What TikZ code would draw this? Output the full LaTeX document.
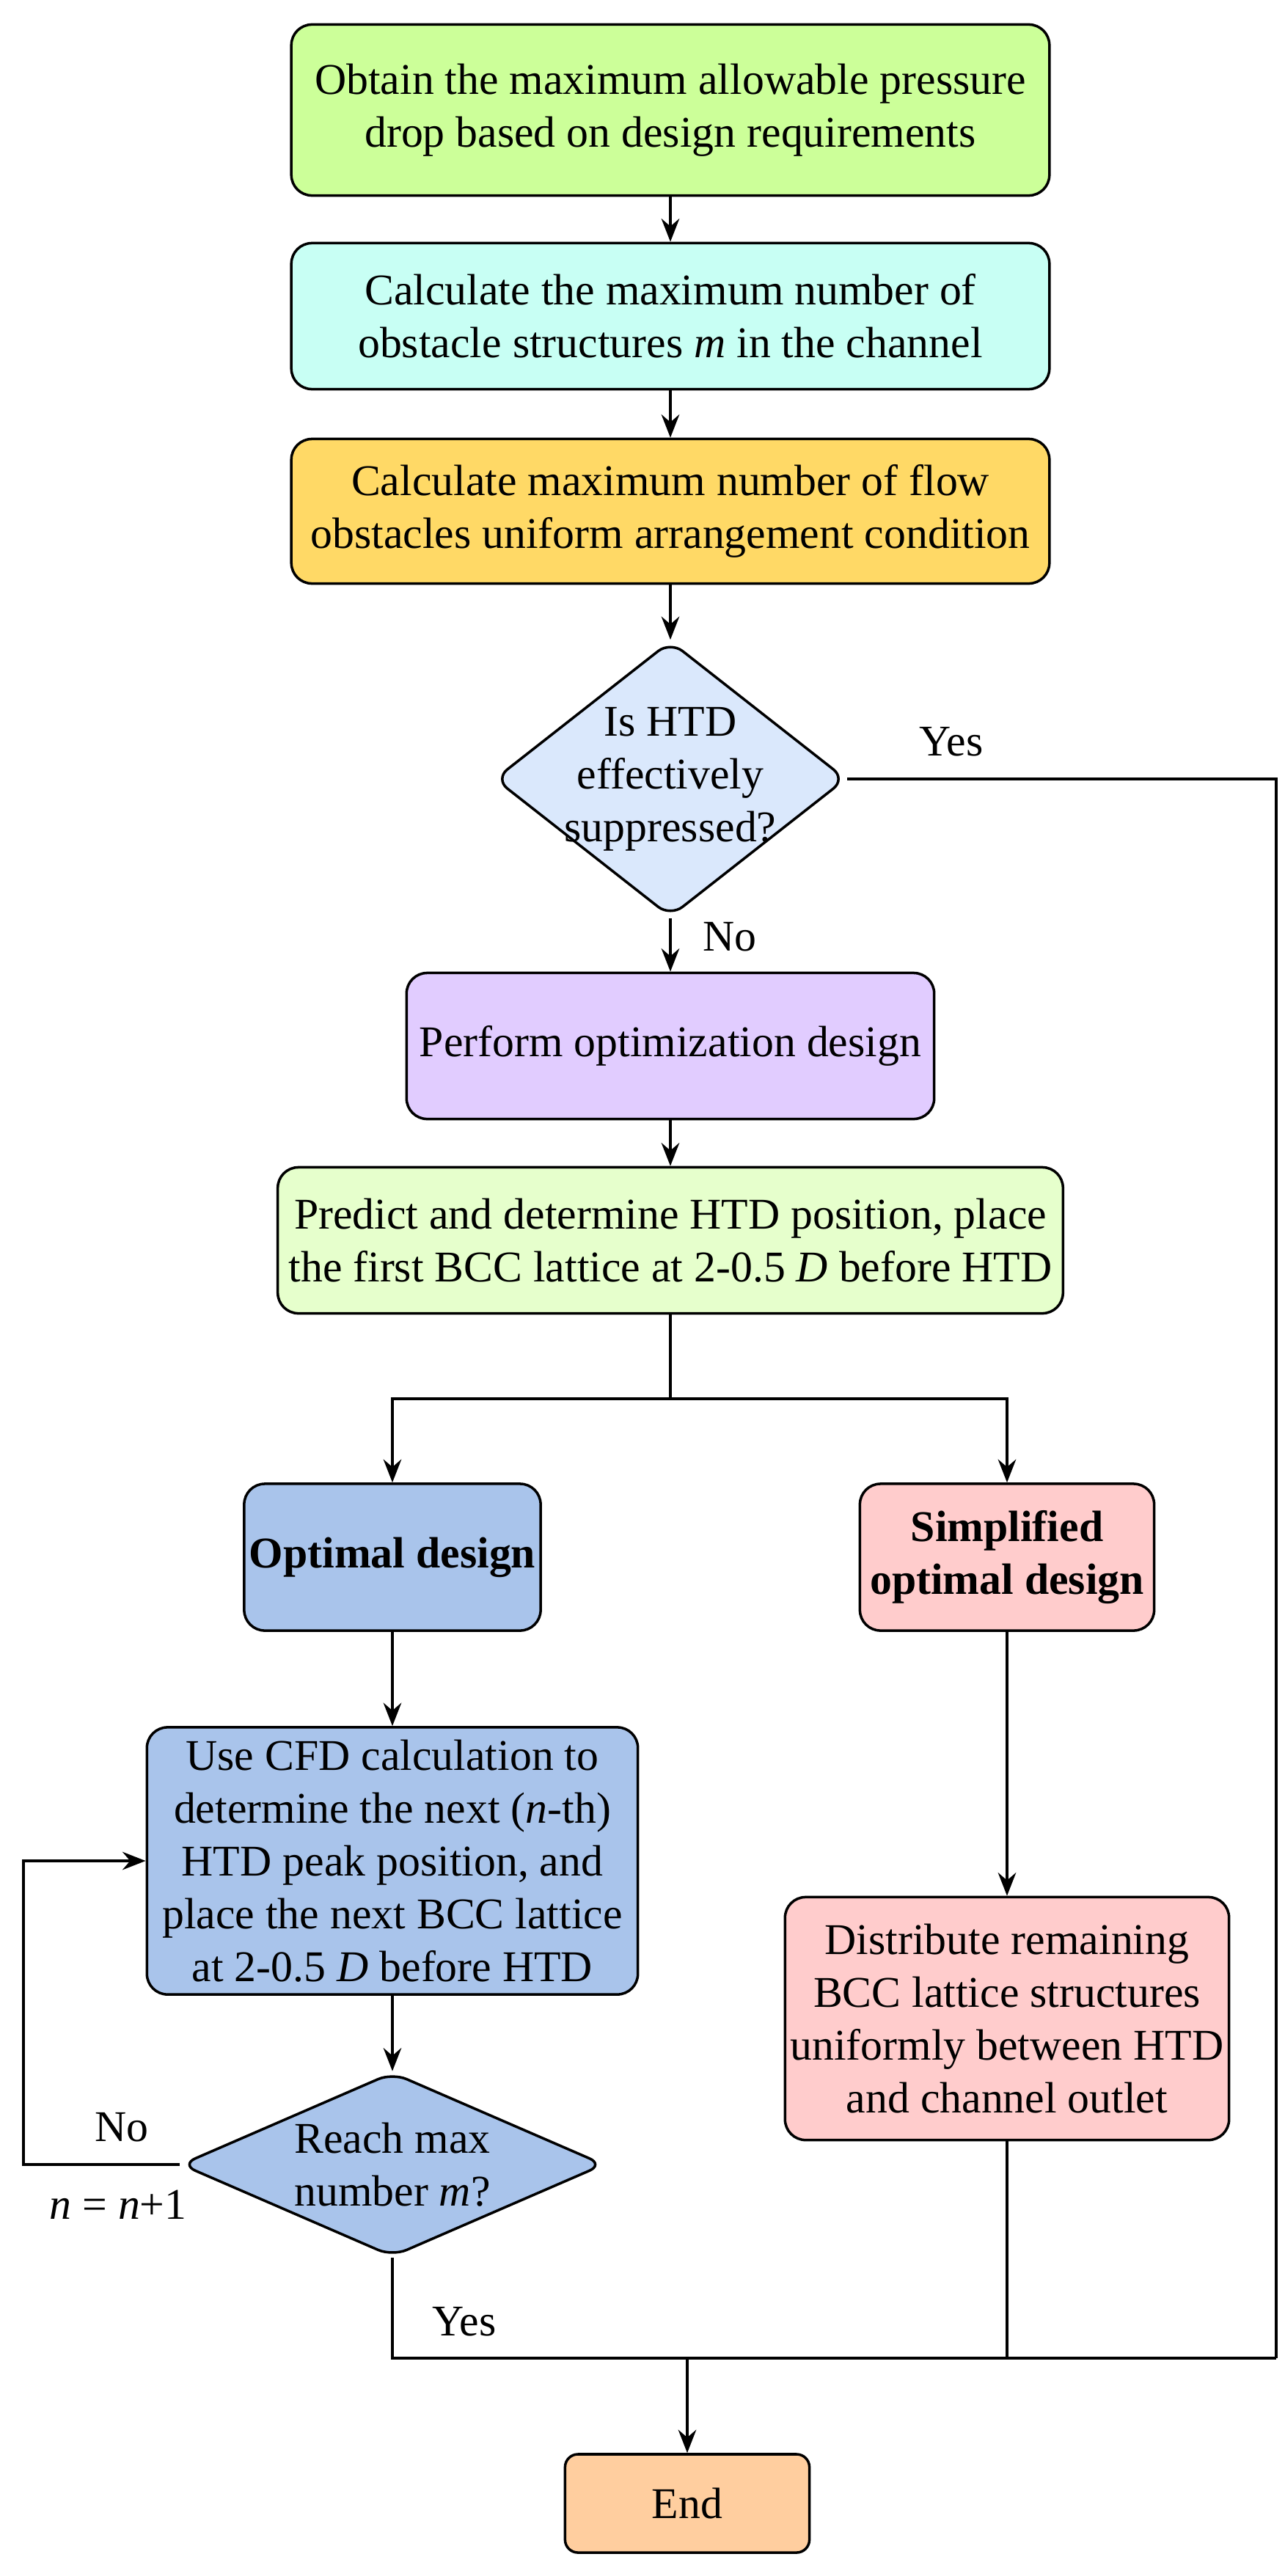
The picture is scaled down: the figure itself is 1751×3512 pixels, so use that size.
\documentclass[tikz,border=0pt]{standalone}
\usepackage{fontspec}
\setmainfont{Liberation Serif}
\usetikzlibrary{shapes.geometric,arrows.meta}

\definecolor{obtaincol}{HTML}{CCFF99}
\definecolor{calccol}{HTML}{C8FFF4}
\definecolor{flowcol}{HTML}{FFD966}
\definecolor{htdcol}{HTML}{DAE8FC}
\definecolor{performcol}{HTML}{E1CCFF}
\definecolor{predictcol}{HTML}{E6FFCC}
\definecolor{optcol}{HTML}{A9C4EB}
\definecolor{simpcol}{HTML}{FFCCCC}
\definecolor{endcol}{HTML}{FFCE9F}

\begin{document}
\begin{tikzpicture}[x=0.01cm, y=-0.01cm,
    font=\fontsize{17}{20.5}\selectfont,
    box/.style={rectangle, rounded corners=8pt, draw, line width=1pt, align=center, inner sep=0pt},
    decision/.style={diamond, rounded corners=6pt, draw, line width=1pt, inner sep=0pt},
    arr/.style={-{Stealth[length=9pt,width=7pt,inset=3pt]}, line width=0.9pt},
    conn/.style={line width=0.9pt}]
        \useasboundingbox (0,0) rectangle (1751,3512);

        \node[box, fill=obtaincol, minimum width=10.33cm, minimum height=2.33cm] (obtain) at (914,150) {Obtain the maximum allowable pressure\\drop based on design requirements};
        \node[box, fill=calccol, minimum width=10.33cm, minimum height=1.99cm] (calcm) at (914,431) {Calculate the maximum number of\\obstacle structures \textit{m} in the channel};
        \node[box, fill=flowcol, minimum width=10.33cm, minimum height=1.97cm] (calcflow) at (914,697) {Calculate maximum number of flow\\obstacles uniform arrangement condition};
        \node[decision, fill=htdcol, minimum width=4.79cm, minimum height=3.76cm] (htd) at (914,1062) {};
        \node[align=center] (htdtext) at (htd) {Is HTD\\effectively\\suppressed?};
        \node[box, fill=performcol, minimum width=7.19cm, minimum height=1.99cm] (perform) at (914,1426) {Perform optimization design};
        \node[box, fill=predictcol, minimum width=10.70cm, minimum height=1.99cm] (predict) at (914,1691) {Predict and determine HTD position, place\\the first BCC lattice at 2-0.5 \textit{D} before HTD};
        \node[box, fill=optcol, minimum width=4.04cm, minimum height=2.00cm] (optimal) at (535,2123) {\textbf{Optimal design}};
        \node[box, fill=simpcol, minimum width=4.01cm, minimum height=2.00cm] (simplified) at (1373,2123) {\textbf{Simplified}\\\textbf{optimal design}};
        \node[box, fill=optcol, minimum width=6.69cm, minimum height=3.64cm] (cfd) at (535,2537) {Use CFD calculation to\\determine the next (\textit{n}-th)\\HTD peak position, and\\place the next BCC lattice\\at 2-0.5 \textit{D} before HTD};
        \node[decision, fill=optcol, minimum width=5.77cm, minimum height=2.51cm] (reach) at (535,2951) {};
        \node[align=center] (reachtext) at (reach) {Reach max\\number \textit{m}?};
        \node[box, fill=simpcol, minimum width=6.05cm, minimum height=3.31cm] (distribute) at (1373,2752) {Distribute remaining\\BCC lattice structures\\uniformly between HTD\\and channel outlet};
        \node[box, rounded corners=5pt, fill=endcol, minimum width=3.33cm, minimum height=1.34cm] (endbox) at (937,3413) {End};

        \coordinate (split) at (914,1907);
        \coordinate (merge) at (1740,3215);
        \coordinate (loop) at (32,2951);

        \draw[arr] (obtain) -- (calcm);
        \draw[arr] (calcm) -- (calcflow);
        \draw[arr] (calcflow) -- (htd);
        \draw[arr] (htd) -- (perform);
        \draw[conn] (htd.east) -| (merge);
        \draw[arr] (perform) -- (predict);
        \draw[conn] (predict) -- (split);
        \draw[arr] (split) -| (optimal);
        \draw[arr] (split) -| (simplified);
        \draw[arr] (optimal) -- (cfd);
        \draw[arr] (cfd) -- (reach);
        \draw[arr] (reach.west) -- (loop) |- (cfd.west);
        \draw[conn] (reach.south) |- (merge);
        \draw[arr] (simplified) -- (distribute);
        \draw[conn] (distribute.south) -- (distribute.south |- merge);
        \draw[arr] (endbox.north |- merge) -- (endbox);

        \node (yes1) at (1297,1011) {Yes};
        \node (no1) at (995,1277) {No};
        \node (no2) at (166,2900) {No};
        \node (ninc) at (161,3006) {\textit{n} = \textit{n}+1};
        \node (yes2) at (633,3165) {Yes};
    \end{tikzpicture}
\end{document}
